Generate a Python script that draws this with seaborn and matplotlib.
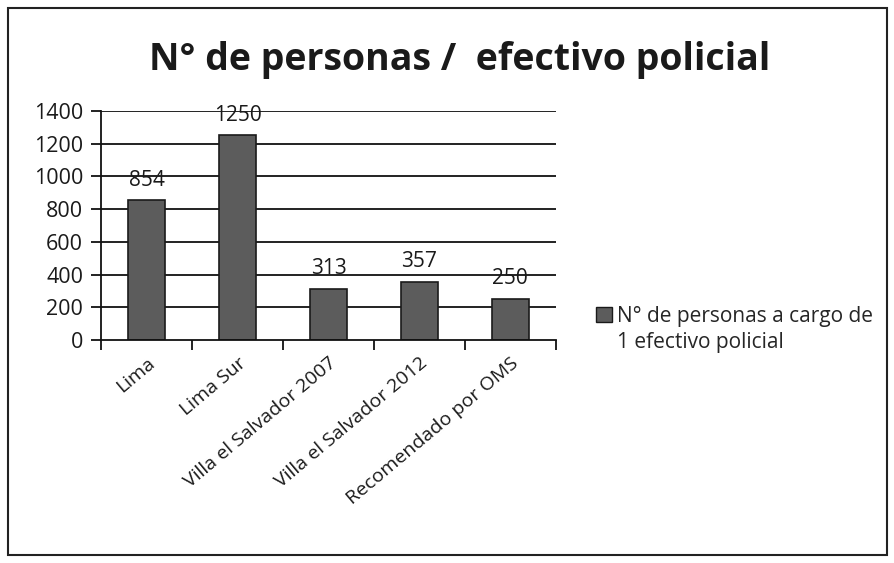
import matplotlib
matplotlib.use("Agg")
import matplotlib.pyplot as plt
import matplotlib.patches as mpatches
from matplotlib.ticker import FixedLocator
import seaborn as sns
import pandas as pd

categories = ["Lima", "Lima Sur", "Villa el Salvador 2007", "Villa el Salvador 2012", "Recomendado por OMS"]
values = [854, 1250, 313, 357, 250]
legend_lines = ["N° de personas a cargo de", "1 efectivo policial"]
title = "N° de personas /  efectivo policial"
yticks = [0, 200, 400, 600, 800, 1000, 1200, 1400]

sns.set_theme(style="white")
plt.rcParams['font.family'] = ['Open Sans', 'DejaVu Sans']

df = pd.DataFrame({"cat": categories, "val": values})

fig = plt.figure(figsize=(8.95, 5.63), dpi=100)
ax = fig.add_axes([0.113, 0.396, 0.508, 0.407])

bar_color = "#5c5c5c"
text_color = "#1a1a1a"
sns.barplot(data=df, x="cat", y="val", color=bar_color, width=0.41,
            edgecolor="#1a1a1a", linewidth=1.2, saturation=1, ax=ax)

ax.set_ylim(0, 1400)
ax.set_xlim(-0.5, 4.5)
ax.set_yticks(yticks)
ax.set_yticklabels([str(t) for t in yticks], fontsize=15.5, color=text_color)
for t in yticks[1:]:
    ax.axhline(t, color="#111111", lw=1.3, zorder=0)
ax.set_axisbelow(True)

ax.set_xlabel("")
ax.set_ylabel("")
ax.set_xticks(range(len(categories)))
ax.set_xticklabels(categories, rotation=40, ha="right", rotation_mode="anchor",
                   fontsize=14, color=text_color)
ax.tick_params(axis="x", which="major", length=0, pad=10)
ax.xaxis.set_minor_locator(FixedLocator([-0.5, 0.5, 1.5, 2.5, 3.5, 4.5]))
ax.tick_params(axis="x", which="minor", length=7, width=1.3, color="#111111", direction="out", bottom=True)
ax.tick_params(axis="y", length=7, width=1.3, color="#111111", direction="out", left=True, pad=6)

for side in ["top", "right"]:
    ax.spines[side].set_visible(False)
for side in ["left", "bottom"]:
    ax.spines[side].set_visible(True)
    ax.spines[side].set_color("#111111")
    ax.spines[side].set_linewidth(1.3)

for i, v in enumerate(values):
    ax.annotate(str(v), (i, v), xytext=(0, 7), textcoords="offset points",
                ha="center", va="bottom", fontsize=15, color=text_color)

fig.text(0.513, 0.893, title, ha="center", va="center", fontsize=27,
         fontweight="bold", color=text_color)

handle = mpatches.Patch(facecolor=bar_color, edgecolor="#1a1a1a")
blank = mpatches.Patch(facecolor="none", edgecolor="none")
fig.legend(handles=[handle, blank], labels=legend_lines, loc="upper left",
           bbox_to_anchor=(0.657, 0.472), frameon=False, fontsize=15,
           handlelength=0.75, handleheight=0.75, handletextpad=0.25,
           labelspacing=0.25, borderaxespad=0)

border = mpatches.Rectangle((0.009, 0.014), 0.982, 0.972, transform=fig.transFigure,
                            fill=False, edgecolor="#222222", linewidth=1.5)
fig.patches.append(border)

fig.savefig("out.png", dpi=100, facecolor="white")
